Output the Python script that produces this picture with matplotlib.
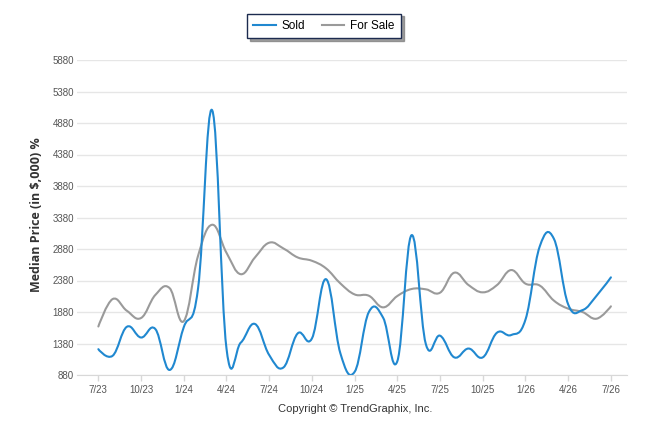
import matplotlib.pyplot as plt
from matplotlib.path import Path
from matplotlib.patches import PathPatch
from matplotlib.lines import Line2D

months = ['7/23', '8/23', '9/23', '10/23', '11/23', '12/23',
          '1/24', '2/24', '3/24', '4/24', '5/24', '6/24',
          '7/24', '8/24', '9/24', '10/24', '11/24', '12/24',
          '1/25', '2/25', '3/25', '4/25', '5/25', '6/25',
          '7/25', '8/25', '9/25', '10/25', '11/25', '12/25',
          '1/26', '2/26', '3/26', '4/26', '5/26', '6/26', '7/26']

sold = [1290, 1185, 1645, 1475, 1610, 960,
        1640, 2250, 5080, 1300, 1393, 1690,
        1197, 1000, 1540, 1460, 2400, 1223,
        930, 1880, 1790, 1100, 3100, 1372,
        1504, 1160, 1300, 1160, 1552, 1515,
        1760, 2920, 3040, 2000, 1910, 2140, 2430]

for_sale = [1650, 2085, 1900, 1785, 2150, 2260,
            1735, 2770, 3265, 2820, 2480, 2746,
            2980, 2888, 2746, 2693, 2571, 2333,
            2159, 2138, 1954, 2134, 2245, 2240,
            2187, 2504, 2308, 2192, 2308, 2546,
            2330, 2300, 2060, 1933, 1880, 1774, 1970]

y_ticks = list(range(880, 5881, 500))

SOLD_COLOR = '#2088d0'
SALE_COLOR = '#9a9a9a'


def spline_path(xs, ys, smoothing=1.5):
    # highcharts-like spline through every point
    denom = smoothing + 1
    n = len(xs)
    left = [(xs[i], ys[i]) for i in range(n)]
    right = [(xs[i], ys[i]) for i in range(n)]
    for i in range(1, n - 1):
        lx = (smoothing * xs[i] + xs[i - 1]) / denom
        ly = (smoothing * ys[i] + ys[i - 1]) / denom
        rx = (smoothing * xs[i] + xs[i + 1]) / denom
        ry = (smoothing * ys[i] + ys[i + 1]) / denom
        corr = (ry - ly) * (rx - xs[i]) / (rx - lx) + ys[i] - ry
        left[i] = (lx, ly + corr)
        right[i] = (rx, ry + corr)
    verts = [(xs[0], ys[0])]
    codes = [Path.MOVETO]
    for i in range(1, n):
        verts += [right[i - 1], left[i], (xs[i], ys[i])]
        codes += [Path.CURVE4] * 3
    return Path(verts, codes)


def main():
    fig = plt.figure(figsize=(6.46, 4.34), dpi=100)
    ax = fig.add_axes([77 / 646, 1 - 375 / 434, 550 / 646, 315 / 434])

    xs = list(range(len(months)))
    for series, color in [(for_sale, SALE_COLOR), (sold, SOLD_COLOR)]:
        patch = PathPatch(spline_path(xs, series), facecolor='none',
                          edgecolor=color, lw=1.5, capstyle='round', joinstyle='round')
        ax.add_patch(patch)

    ax.set_xlim(-1.5, 37.13)
    ax.set_ylim(880, 5880)
    ax.set_yticks(y_ticks)
    ax.set_yticklabels([str(v) for v in y_ticks])
    ax.set_xticks(xs[::3])
    ax.set_xticklabels(months[::3])
    ax.grid(axis='y', color='#e6e6e6', lw=1)
    ax.set_axisbelow(True)
    for s in ['top', 'right', 'left']:
        ax.spines[s].set_visible(False)
    ax.spines['bottom'].set_color('#d8d8d8')
    ax.tick_params(axis='y', length=0, pad=2, labelsize=7, labelcolor='#555555')
    ax.tick_params(axis='x', length=4, width=1, color='#d8d8d8', pad=3,
                   labelsize=7, labelcolor='#555555')
    for lbl in ax.get_xticklabels() + ax.get_yticklabels():
        lbl.set_fontfamily('Liberation Sans')

    fig.text(37 / 646, 1 - 215 / 434, 'Median Price (in $,000) %', rotation=90,
             ha='center', va='center', fontsize=9, fontweight='bold',
             family='Open Sans', color='#333333')

    fig.text(355 / 646, 1 - 409 / 434, 'Copyright \u00a9 TrendGraphix, Inc.',
             ha='center', va='center', fontsize=8, family='Liberation Sans',
             color='#333333')

    handles = [Line2D([], [], color=SOLD_COLOR, lw=1.5),
               Line2D([], [], color=SALE_COLOR, lw=1.5)]
    leg = fig.legend(handles, ['Sold', 'For Sale'], loc='center',
                     bbox_to_anchor=(324 / 646, 1 - 26 / 434), ncol=2,
                     prop={'family': 'Liberation Sans', 'size': 8.5},
                     handlelength=1.9, handletextpad=0.5, columnspacing=1.4,
                     borderpad=0.55, fancybox=False, framealpha=1,
                     shadow={'color': '#777777', 'alpha': 0.7, 'ox': 2, 'oy': -2})
    leg.get_frame().set_edgecolor('#1c2b4f')
    leg.get_frame().set_linewidth(1.0)

    fig.savefig('out.png', dpi=100)


if __name__ == "__main__":
    main()
